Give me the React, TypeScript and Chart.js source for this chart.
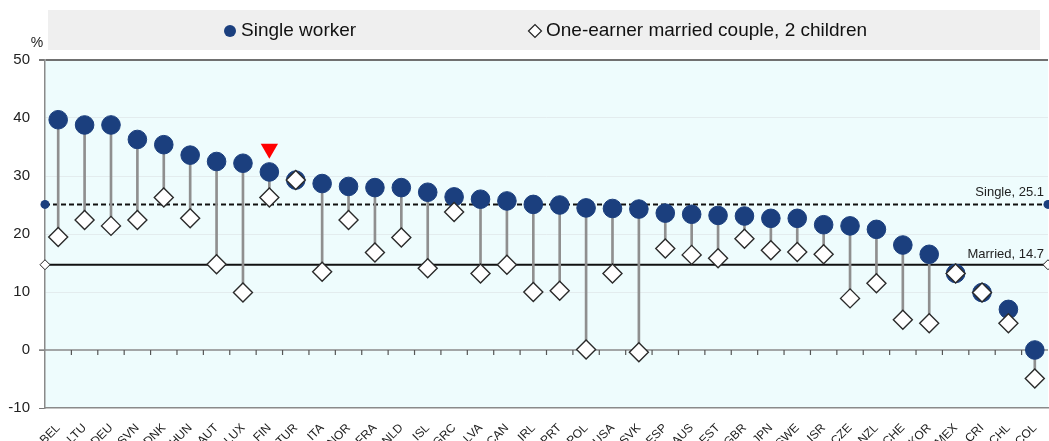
import React, { useEffect, useRef } from 'react';
import { Chart, registerables } from 'chart.js';

Chart.register(...registerables);

const categories = ['BEL','LTU','DEU','SVN','DNK','HUN','AUT','LUX','FIN','TUR','ITA','NOR','FRA','NLD','ISL','GRC','LVA','CAN','IRL','PRT','POL','USA','SVK','ESP','AUS','EST','GBR','JPN','SWE','ISR','CZE','NZL','CHE','KOR','MEX','CRI','CHL','COL'];

const singleWorker = [39.7,38.8,38.8,36.3,35.4,33.6,32.5,32.2,30.7,29.3,28.7,28.2,28.0,28.0,27.2,26.4,26.0,25.7,25.1,25.0,24.5,24.4,24.3,23.6,23.4,23.2,23.1,22.7,22.7,21.6,21.4,20.8,18.1,16.5,13.2,9.9,7.0,0.0];

const marriedCouple = [19.5,22.4,21.4,22.4,26.3,22.7,14.8,9.9,26.3,29.3,13.5,22.4,16.8,19.4,14.1,23.8,13.2,14.7,10.0,10.2,0.1,13.2,-0.4,17.5,16.4,15.8,19.2,17.2,16.9,16.5,8.9,11.5,5.2,4.6,13.2,9.9,4.6,-4.9];

const highlightCountry = 'FIN';
const highlightValue = 34.7;

const singleAverage = 25.1;
const marriedAverage = 14.7;

const yMin = -10;
const yMax = 50;
const yStep = 10;

const legendLabels = ['Single worker', 'One-earner married couple, 2 children'];
const unitLabel = '%';

const NAVY = '#1b3f7e';
const FONT = '"Liberation Sans", Arial, sans-serif';
const W = 1049;
const H = 441;

function drawDiamond(ctx: CanvasRenderingContext2D, x: number, y: number, r: number) {
  ctx.beginPath();
  ctx.moveTo(x - r, y);
  ctx.lineTo(x, y - r);
  ctx.lineTo(x + r, y);
  ctx.lineTo(x, y + r);
  ctx.closePath();
  ctx.fill();
  ctx.stroke();
}

const backgroundPlugin = {
  id: 'bgPlugin',
  beforeDraw(chart: any) {
    const { ctx, chartArea: a } = chart;
    ctx.save();
    ctx.fillStyle = '#eefcfd';
    ctx.fillRect(a.left, a.top, a.right - a.left, a.bottom - a.top);
    // legend box
    ctx.fillStyle = '#efefef';
    ctx.fillRect(48, 10, 992, 40);
    ctx.font = `19px ${FONT}`;
    ctx.textBaseline = 'middle';
    ctx.fillStyle = NAVY;
    ctx.beginPath();
    ctx.arc(230, 31, 6, 0, Math.PI * 2);
    ctx.fill();
    ctx.fillStyle = '#111';
    ctx.fillText(legendLabels[0], 241, 31);
    ctx.fillStyle = '#fff';
    ctx.strokeStyle = '#222';
    ctx.lineWidth = 1.2;
    drawDiamond(ctx, 535, 31, 6.5);
    ctx.fillStyle = '#111';
    ctx.fillText(legendLabels[1], 546, 31);
    // unit label
    ctx.font = `14px ${FONT}`;
    ctx.textAlign = 'center';
    ctx.fillStyle = '#222';
    ctx.fillText(unitLabel, 37, 43);
    ctx.restore();
  },
  beforeDatasetsDraw(chart: any) {
    const { ctx, chartArea: a, scales } = chart;
    const x = scales.x;
    const y = scales.y;
    ctx.save();
    // zero axis
    const y0 = y.getPixelForValue(0);
    ctx.strokeStyle = '#8a8a8a';
    ctx.lineWidth = 1.5;
    ctx.beginPath();
    ctx.moveTo(a.left - 6, y0);
    ctx.lineTo(a.right, y0);
    ctx.stroke();
    // category boundary ticks on the zero axis
    ctx.strokeStyle = '#555';
    ctx.lineWidth = 1.2;
    for (let i = 1; i < categories.length; i++) {
      const px = (x.getPixelForValue(i - 1) + x.getPixelForValue(i)) / 2;
      ctx.beginPath();
      ctx.moveTo(px, y0);
      ctx.lineTo(px, y0 + 5);
      ctx.stroke();
    }
    // average lines
    const ys = y.getPixelForValue(singleAverage);
    const ym = y.getPixelForValue(marriedAverage);
    ctx.strokeStyle = '#111';
    ctx.lineWidth = 2;
    ctx.setLineDash([5, 3]);
    ctx.beginPath();
    ctx.moveTo(a.left, ys);
    ctx.lineTo(a.right, ys);
    ctx.stroke();
    ctx.setLineDash([]);
    ctx.beginPath();
    ctx.moveTo(a.left, ym);
    ctx.lineTo(a.right, ym);
    ctx.stroke();
    // labels
    ctx.font = `13px ${FONT}`;
    ctx.textAlign = 'right';
    ctx.textBaseline = 'alphabetic';
    ctx.fillStyle = '#222';
    ctx.fillText(`Single, ${singleAverage}`, a.right - 4, ys - 8);
    ctx.fillText(`Married, ${marriedAverage}`, a.right - 4, ym - 7);
    ctx.restore();
  },
  afterDatasetsDraw(chart: any) {
    const { ctx, chartArea: a, scales } = chart;
    const y = scales.y;
    const ys = y.getPixelForValue(singleAverage);
    const ym = y.getPixelForValue(marriedAverage);
    ctx.save();
    ctx.fillStyle = NAVY;
    for (const px of [a.left, a.right]) {
      ctx.beginPath();
      ctx.arc(px, ys, 4.5, 0, Math.PI * 2);
      ctx.fill();
    }
    ctx.fillStyle = '#fff';
    ctx.strokeStyle = '#222';
    ctx.lineWidth = 1;
    for (const px of [a.left, a.right]) {
      drawDiamond(ctx, px, ym, 5);
    }
    ctx.restore();
  },
};

export default function App() {
  const canvasRef = useRef<HTMLCanvasElement | null>(null);

  useEffect(() => {
    document.body.style.margin = '0';
    const canvas = canvasRef.current;
    if (!canvas) return;

    const ranges = categories.map((_, i) => [marriedCouple[i], singleWorker[i]]);
    const highlight = categories.map((c) => (c === highlightCountry ? highlightValue : null));

    const chart = new Chart(canvas, {
      type: 'bar',
      data: {
        labels: categories,
        datasets: [
          {
            type: 'bar',
            label: 'range',
            data: ranges as any,
            backgroundColor: '#8f8f8f',
            barThickness: 2,
            order: 4,
          } as any,
          {
            type: 'line',
            label: legendLabels[0],
            data: singleWorker,
            showLine: false,
            pointStyle: 'circle',
            pointRadius: 9.3,
            pointBackgroundColor: NAVY,
            pointBorderColor: NAVY,
            pointBorderWidth: 1,
            order: 3,
          },
          {
            type: 'line',
            label: legendLabels[1],
            data: marriedCouple,
            showLine: false,
            pointStyle: 'rectRot',
            pointRadius: 9.5,
            pointBackgroundColor: '#ffffff',
            pointBorderColor: '#2a2a2a',
            pointBorderWidth: 1.4,
            order: 2,
          },
          {
            type: 'line',
            label: 'highlight',
            data: highlight,
            showLine: false,
            pointStyle: 'triangle',
            rotation: 180,
            pointRadius: 10,
            pointBackgroundColor: '#ff0000',
            pointBorderColor: '#ff0000',
            pointBorderWidth: 0,
            order: 1,
          } as any,
        ],
      },
      options: {
        animation: false,
        responsive: false,
        layout: { autoPadding: false, padding: { top: 60, right: 1, left: 0, bottom: 0 } },
        plugins: {
          legend: { display: false },
          tooltip: { enabled: false },
        },
        scales: {
          x: {
            type: 'category',
            offset: true,
            grid: { display: false },
            border: { display: true, color: '#8a8a8a', width: 1.5 },
            ticks: {
              autoSkip: false,
              maxRotation: 45,
              minRotation: 45,
              padding: 5,
              color: '#222',
              font: { family: FONT, size: 12 },
            },
            afterFit: (scale: any) => {
              scale.height = 33;
              scale.paddingLeft = 0;
              scale.paddingRight = 0;
            },
          },
          y: {
            min: yMin,
            max: yMax,
            ticks: {
              stepSize: yStep,
              padding: 9,
              color: '#222',
              font: { family: FONT, size: 15 },
            },
            grid: {
              color: (ctx: any) => {
                const v = ctx.tick?.value;
                if (v === yMax) return '#707070';
                if (v > 0 && v < yMax) return '#e3ecee';
                return 'rgba(0,0,0,0)';
              },
              lineWidth: (ctx: any) => (ctx.tick?.value === yMax ? 2 : 1),
              tickLength: 6,
              tickColor: (ctx: any) => {
                const v = ctx.tick?.value;
                return v === yMax || v === 0 || v === yMin ? '#777' : 'rgba(0,0,0,0)';
              },
            },
            border: { display: true, color: '#8a8a8a', width: 1.5 },
            afterFit: (scale: any) => {
              scale.width = 45;
            },
          },
        },
      },
      plugins: [backgroundPlugin],
    });

    return () => chart.destroy();
  }, []);

  return (
    <div style={{ width: `${W}px`, height: `${H}px` }}>
      <canvas ref={canvasRef} width={W} height={H} style={{ display: 'block', width: `${W}px`, height: `${H}px` }} />
    </div>
  );
}
